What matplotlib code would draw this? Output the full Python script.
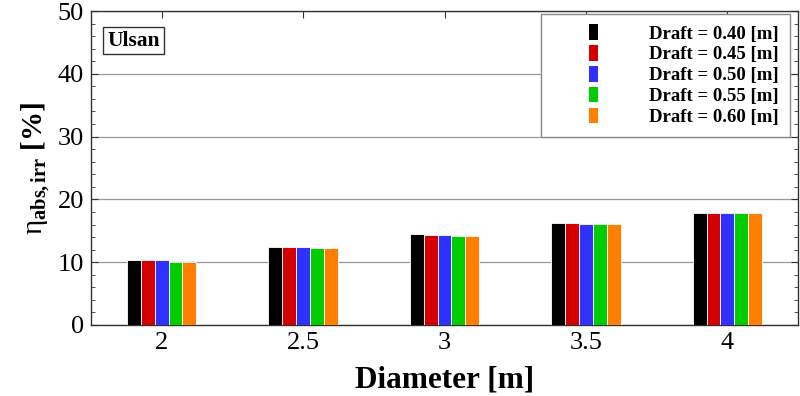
import matplotlib
matplotlib.use("Agg")
import matplotlib.pyplot as plt
import numpy as np
from matplotlib.patches import Rectangle
from matplotlib.legend_handler import HandlerPatch
from matplotlib.ticker import MultipleLocator

plt.rcParams['font.family'] = ['Liberation Serif', 'DejaVu Serif']
plt.rcParams['mathtext.fontset'] = 'custom'
plt.rcParams['mathtext.rm'] = 'Liberation Serif'
plt.rcParams['mathtext.it'] = 'Liberation Serif:italic'
plt.rcParams['mathtext.bf'] = 'Liberation Serif:bold'

diameters = [2, 2.5, 3, 3.5, 4]
draft_labels = ['Draft = 0.40 [m]', 'Draft = 0.45 [m]', 'Draft = 0.50 [m]',
                'Draft = 0.55 [m]', 'Draft = 0.60 [m]']
draft_040 = [10.3, 12.5, 14.5, 16.25, 17.9]
draft_045 = [10.3, 12.4, 14.4, 16.25, 17.9]
draft_050 = [10.3, 12.4, 14.4, 16.15, 17.8]
draft_055 = [10.1, 12.2, 14.2, 16.15, 17.8]
draft_060 = [10.1, 12.2, 14.2, 16.1, 17.8]
series = [draft_040, draft_045, draft_050, draft_055, draft_060]
colors = ['#000000', '#d40000', '#3030ff', '#00cc00', '#ff8000']

fig = plt.figure(figsize=(8, 3.96), dpi=100)
ax = fig.add_axes([0.11375, 0.1793, 0.88375, 0.7929])

width = 0.049
x = np.array(diameters)
for i, (vals, c, lab) in enumerate(zip(series, colors, draft_labels)):
    ax.bar(x + (i - 2) * width, vals, width=width, color=c, edgecolor='white',
           linewidth=0.6, label=lab, zorder=3)

ax.set_xlim(1.75, 4.25)
ax.set_ylim(0, 50)
ax.set_xticks(diameters)
ax.set_xticklabels(['2', '2.5', '3', '3.5', '4'])
ax.yaxis.set_major_locator(MultipleLocator(10))
ax.yaxis.set_minor_locator(MultipleLocator(2))
ax.tick_params(axis='both', which='both', direction='in', top=True, right=True,
               labelsize=19, colors='#333333', labelcolor='black')
ax.tick_params(axis='both', which='major', length=5, width=0.8, pad=5)
ax.tick_params(axis='y', which='minor', length=3, width=0.6)
ax.grid(axis='y', which='major', color='#999999', linewidth=0.9, zorder=0)
ax.set_axisbelow(True)
for s in ax.spines.values():
    s.set_color('#333333')
    s.set_linewidth(1.0)

ax.set_xlabel('Diameter [m]', fontsize=22.5, fontweight='bold', labelpad=8)
ax.set_ylabel(r'$\mathrm{\eta}_{\mathbf{abs,irr}}$ [%]', fontsize=21, fontweight='bold', labelpad=4)

ax.text(0.023, 0.906, 'Ulsan', transform=ax.transAxes, fontsize=15.5, fontweight='bold',
        va='center', ha='left',
        bbox=dict(boxstyle='square,pad=0.18', facecolor='white', edgecolor='#333333', linewidth=1))

proxies = [Rectangle((0, 0), 1, 1, facecolor=c, edgecolor='none') for c in colors]

def make_rect(legend, orig_handle, xdescent, ydescent, width, height, fontsize):
    w = 6.0
    h = height * 1.2
    return Rectangle((-xdescent + width - w, -ydescent - (h - height) / 2), w, h)

leg = ax.legend(handles=proxies, labels=draft_labels, loc='upper right',
                bbox_to_anchor=(0.9887, 0.990), borderaxespad=0,
                prop={'weight': 'bold', 'size': 13.5},
                handlelength=2.4, handletextpad=2.75, labelspacing=0.2,
                borderpad=0.6, fancybox=False, framealpha=1, edgecolor='#888888',
                handler_map={Rectangle: HandlerPatch(patch_func=make_rect)})
leg.get_frame().set_linewidth(1.0)

fig.savefig('out.png', dpi=100)
